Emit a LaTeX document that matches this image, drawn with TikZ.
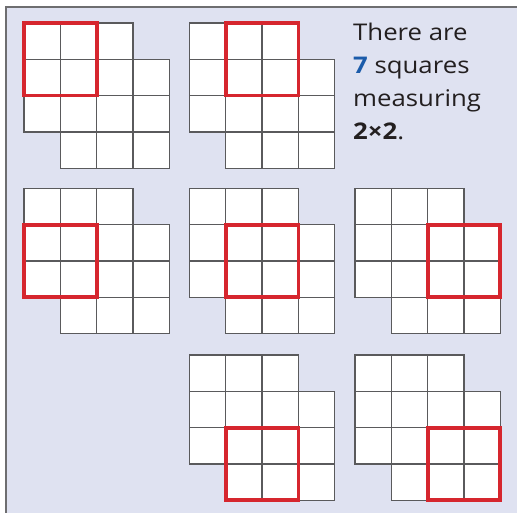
\documentclass[tikz,border=0pt]{standalone}
\usepackage{fontspec}
\setmainfont{Open Sans}
\newfontfamily\txtfont[FakeStretch=1.12]{Open Sans}
\definecolor{bg}{HTML}{DFE2F1}
\definecolor{bordergray}{HTML}{6E6E70}
\definecolor{gridgray}{HTML}{5A5A5C}
\definecolor{redsq}{HTML}{D6262E}
\definecolor{txt}{HTML}{231F20}
\definecolor{blue7}{HTML}{1B5BAA}
\tikzset{
  cellbox/.style={fill=white, draw=gridgray, line width=1.3pt},
  redbox/.style={draw=redsq, line width=3.8pt},
  txtline/.style={anchor=base west, inner sep=0pt, text=txt, font=\txtfont\fontsize{23}{27}\selectfont}
}
\newcommand{\sqgrid}[4]{%
  \begin{scope}[shift={(#1,#2)}]
    \foreach \i/\j in {0/0,1/0,2/0,0/1,1/1,2/1,3/1,0/2,1/2,2/2,3/2,1/3,2/3,3/3}
      \draw[cellbox] (\i*36.3,\j*36.3) rectangle ++(36.3,36.3);
    \draw[redbox] (#3*36.3,#4*36.3) rectangle ++(72.6,72.6);
  \end{scope}}
\begin{document}
\begin{tikzpicture}[x=1pt,y=-1pt]
\useasboundingbox (0,0) rectangle (517,513);
\fill[white] (0,0) rectangle (517,513);
\fill[bg] (6,7) rectangle (517,513);
\draw[bordergray, line width=2pt] (6,513) -- (6,7) -- (517,7);
\sqgrid{24}{23}{0}{0}
\sqgrid{189.5}{23}{1}{0}
\sqgrid{24}{188.5}{0}{1}
\sqgrid{189.5}{188.5}{1}{1}
\sqgrid{355}{188.5}{2}{1}
\sqgrid{189.5}{355}{1}{2}
\sqgrid{355}{355}{2}{2}
\node[txtline] (l1) at (353,40.5) {There are};
\node[txtline] (l2) at (353,74) {\textcolor{blue7}{\textbf{7}} squares};
\node[txtline] (l3) at (353,107) {measuring};
\node[txtline] (l4) at (353,140) {\textbf{2×2}.};
\end{tikzpicture}
\end{document}
